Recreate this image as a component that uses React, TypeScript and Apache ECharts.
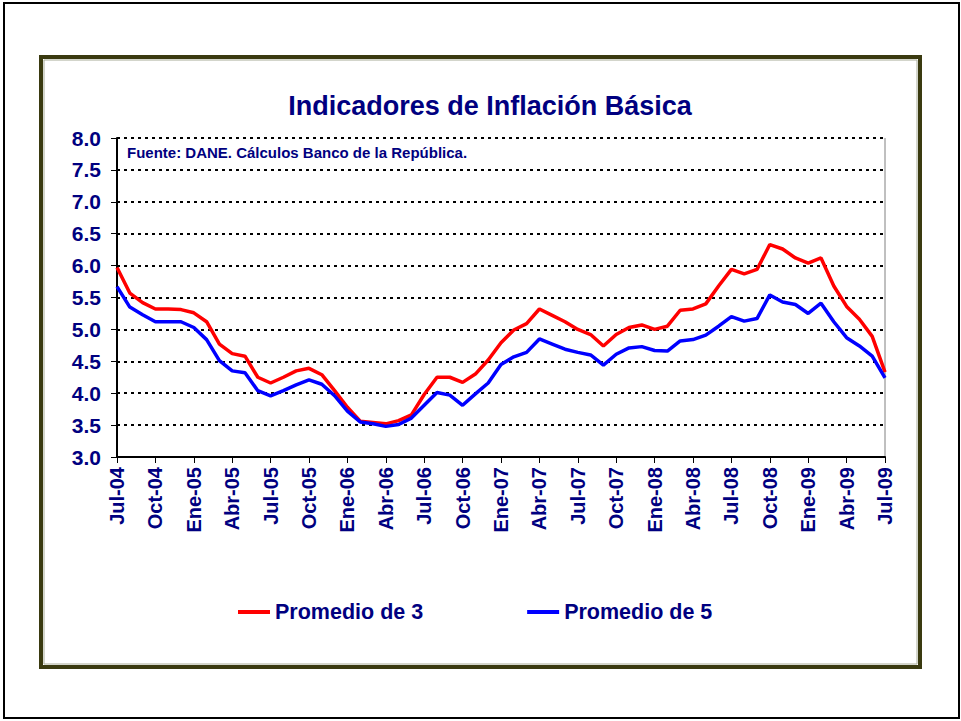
import React, { useEffect, useRef } from "react";
import * as echarts from "echarts";

const months = ["Ene", "Feb", "Mar", "Abr", "May", "Jun", "Jul", "Ago", "Sep", "Oct", "Nov", "Dic"];
const categories: string[] = [];
for (let k = 0; k <= 60; k++) {
  const m = (6 + k) % 12;
  const y = 4 + Math.floor((6 + k) / 12);
  categories.push(months[m] + "-0" + y);
}

const promedio3 = [
  5.97, 5.57, 5.42, 5.32, 5.32, 5.31, 5.26, 5.12, 4.77, 4.62, 4.58, 4.25, 4.16, 4.25, 4.35,
  4.39, 4.29, 4.04, 3.78, 3.56, 3.54, 3.52, 3.57, 3.66, 3.98, 4.25, 4.25, 4.17, 4.30, 4.52,
  4.79, 4.99, 5.09, 5.32, 5.22, 5.12, 5.00, 4.92, 4.74, 4.92, 5.03, 5.07, 5.00, 5.05, 5.30,
  5.32, 5.40, 5.68, 5.94, 5.87, 5.94, 6.33, 6.26, 6.12, 6.04, 6.12, 5.68, 5.36, 5.16, 4.89, 4.33,
];
const promedio5 = [
  5.67, 5.35, 5.23, 5.12, 5.12, 5.12, 5.03, 4.84, 4.51, 4.35, 4.32, 4.04, 3.96, 4.04, 4.13,
  4.21, 4.14, 3.96, 3.72, 3.55, 3.52, 3.48, 3.51, 3.61, 3.81, 4.01, 3.97, 3.81, 3.99, 4.16,
  4.45, 4.57, 4.64, 4.85, 4.77, 4.69, 4.64, 4.60, 4.44, 4.61, 4.71, 4.73, 4.67, 4.66, 4.82,
  4.84, 4.91, 5.05, 5.20, 5.13, 5.17, 5.54, 5.43, 5.39, 5.25, 5.41, 5.12, 4.87, 4.74, 4.58, 4.24,
];

const NAVY = "#000080";
const FONT = "'Liberation Sans', Arial, sans-serif";

export default function App() {
  const ref = useRef<HTMLDivElement>(null);
  useEffect(() => {
    if (!ref.current) return;
    const chart = echarts.init(ref.current, null, { renderer: "svg" });
    chart.setOption({
      animation: false,
      backgroundColor: "#ffffff",
      title: {
        text: "Indicadores de Inflación Básica",
        left: 485,
        top: 87,
        textAlign: "center",
        textStyle: { color: NAVY, fontFamily: FONT, fontWeight: "bold", fontSize: 27 },
      },
      legend: {
        left: 233,
        top: 596,
        itemWidth: 32,
        itemHeight: 4,
        itemGap: 104,
        icon: "rect",
        textStyle: { color: NAVY, fontFamily: FONT, fontWeight: "bold", fontSize: 21.5, padding: [0, 0, 0, 0] },
        data: ["Promedio de 3", "Promedio de 5"],
      },
      grid: { left: 117, right: 76, top: 138, bottom: 264, containLabel: false },
      xAxis: {
        type: "category",
        data: categories,
        boundaryGap: false,
        axisLine: { lineStyle: { color: "#000", width: 2 } },
        axisTick: { interval: 2, length: 6, lineStyle: { color: "#000", width: 1 } },
        axisLabel: {
          interval: 2,
          rotate: 90,
          margin: 10,
          color: NAVY,
          fontFamily: FONT,
          fontWeight: "bold",
          fontSize: 20,
        },
        splitLine: { show: false },
      },
      yAxis: {
        type: "value",
        min: 3,
        max: 8,
        interval: 0.5,
        axisLine: { show: true, lineStyle: { color: "#000", width: 2 } },
        axisTick: { show: true, length: 6, lineStyle: { color: "#000", width: 1 } },
        axisLabel: {
          margin: 16,
          color: NAVY,
          fontFamily: FONT,
          fontWeight: "bold",
          fontSize: 21,
          formatter: (v: number) => v.toFixed(1),
        },
        splitLine: { show: true, lineStyle: { color: "#000", width: 2, type: [3, 4] } },
      },
      graphic: [
        { type: "rect", shape: { x: 4, y: 3, width: 955, height: 715 }, style: { fill: "none", stroke: "#000", lineWidth: 2 }, silent: true },
        { type: "rect", shape: { x: 41, y: 57, width: 879, height: 610 }, style: { fill: "none", stroke: "#3a3a10", lineWidth: 4 }, silent: true },
        { type: "rect", shape: { x: 44, y: 60, width: 873, height: 604 }, style: { fill: "none", stroke: "#a8ac98", lineWidth: 1 }, silent: true },
        { type: "line", shape: { x1: 885, y1: 138, x2: 885, y2: 457 }, style: { stroke: "#808080", lineWidth: 1 }, silent: true },
        {
          type: "text",
          left: 127,
          top: 145,
          style: {
            text: "Fuente: DANE. Cálculos Banco de la República.",
            fill: NAVY,
            font: "bold 15px " + FONT,
          },
        },
      ],
      series: [
        {
          name: "Promedio de 3",
          type: "line",
          data: promedio3,
          symbol: "none",
          lineStyle: { color: "#ff0000", width: 3.5 },
          itemStyle: { color: "#ff0000" },
        },
        {
          name: "Promedio de 5",
          type: "line",
          data: promedio5,
          symbol: "none",
          lineStyle: { color: "#0000ff", width: 3.5 },
          itemStyle: { color: "#0000ff" },
        },
      ],
    });
    return () => chart.dispose();
  }, []);
  return <div ref={ref} style={{ width: 961, height: 721, position: "absolute", left: 0, top: 0 }} />;
}
